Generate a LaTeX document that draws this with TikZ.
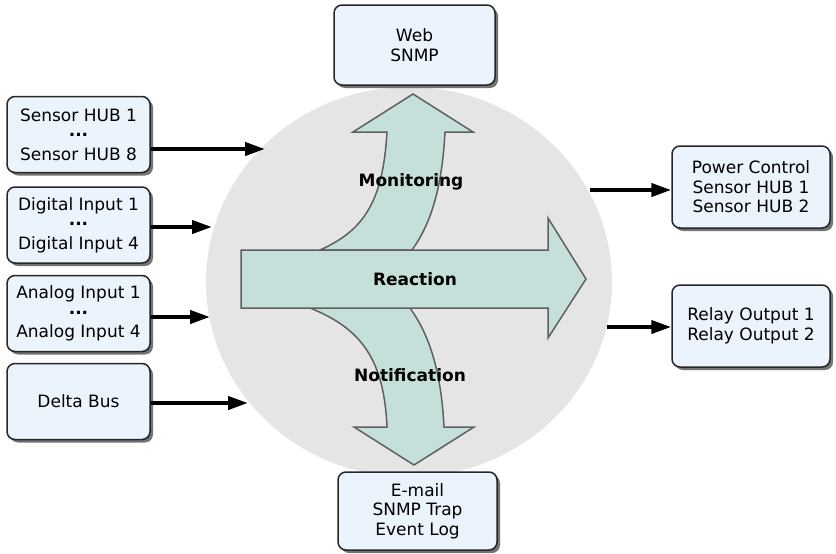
\documentclass[tikz,border=0pt]{standalone}
\usepackage{fontspec}
\setmainfont{DejaVu Sans}
\usepackage{tikz}
\usetikzlibrary{arrows.meta, shadows}

\definecolor{boxfill}{HTML}{EBF3FC}
\definecolor{flowfill}{HTML}{C5DFDB}
\definecolor{flowline}{HTML}{606060}
\definecolor{coregray}{HTML}{E5E5E5}

\tikzset{
  unitbox/.style={rectangle, rounded corners=8pt, draw=black!85, line width=1.5pt,
    fill=boxfill, align=center, inner sep=2pt,
    font=\fontsize{17}{19.5}\selectfont,
    drop shadow={shadow xshift=3pt, shadow yshift=-3pt, fill=black!55, opacity=1}},
  inbox/.style={unitbox, minimum width=143pt, minimum height=76pt},
  outbox/.style={unitbox, minimum width=158pt, minimum height=82pt},
  flow/.style={fill=flowfill, draw=flowline, line width=1.5pt, line join=miter},
  flowlabel/.style={font=\fontsize{17}{20}\selectfont\bfseries},
  feed/.style={->, line width=4pt},
}

\begin{document}
\begin{tikzpicture}[x=1pt, y=-1pt, >={Triangle[length=20pt, width=13pt]}]
    \useasboundingbox (0,0) rectangle (836,554);

    \fill[coregray] (409,282) ellipse [x radius=203, y radius=195];

    % monitoring and notification
    \draw[flow] (320,250) .. controls (365,230) and (383,200) .. (387,132)
      -- (353,132) -- (413,94) -- (473,132) -- (445,132)
      .. controls (442,190) and (430,225) .. (412,250) -- cycle;
    \draw[flow] (310,308) .. controls (360,328) and (384,358) .. (387,427)
      -- (354,427) -- (414,465) -- (474,427) -- (444,427)
      .. controls (441,368) and (428,333) .. (410,308) -- cycle;
    % reaction
    \draw[flow] (241,250) -- (548,250) -- (548,218) -- (586,279)
      -- (548,338) -- (548,308) -- (241,308) -- cycle;

    \node[flowlabel] (monlbl) at (411,182) {Monitoring};
    \node[flowlabel] (reactlbl) at (415,279) {Reaction};
    \node[flowlabel] (notelbl) at (410,375) {Notification};

    \node[inbox] (hub) at (78.5,134.5) {Sensor HUB 1\\[-4pt]\textbf{...}\\[4pt]Sensor HUB 8};
    \node[inbox] (digin) at (78.5,225) {Digital Input 1\\[-4pt]\textbf{...}\\[4pt]Digital Input 4};
    \node[inbox] (anain) at (78.5,313.5) {Analog Input 1\\[-4pt]\textbf{...}\\[4pt]Analog Input 4};
    \node[inbox] (dbus) at (78.5,401.5) {Delta Bus};

    \node[unitbox, minimum width=161pt, minimum height=80pt] (web) at (414.5,45) {Web\\SNMP};
    \node[unitbox, minimum width=159pt, minimum height=78pt] (mail) at (417.5,511) {E-mail\\SNMP Trap\\Event Log};

    \node[outbox] (pwr) at (751,187) {Power Control\\Sensor HUB 1\\Sensor HUB 2};
    \node[outbox] (relay) at (751,326) {Relay Output 1\\Relay Output 2};

    \coordinate (hubin) at (265,149);
    \coordinate (digin-end) at (212,227);
    \coordinate (anain-end) at (210,317);
    \coordinate (dbus-end) at (248,403);
    \coordinate (pwrout) at (590,190);
    \coordinate (relayout) at (607,327);

    \draw[feed] (hubin -| hub.east) -- (hubin);
    \draw[feed] (digin-end -| digin.east) -- (digin-end);
    \draw[feed] (anain-end -| anain.east) -- (anain-end);
    \draw[feed] (dbus-end -| dbus.east) -- (dbus-end);
    \draw[feed] (pwrout) -- (pwrout -| pwr.west);
    \draw[feed] (relayout) -- (relayout -| relay.west);

  \end{tikzpicture}
\end{document}
